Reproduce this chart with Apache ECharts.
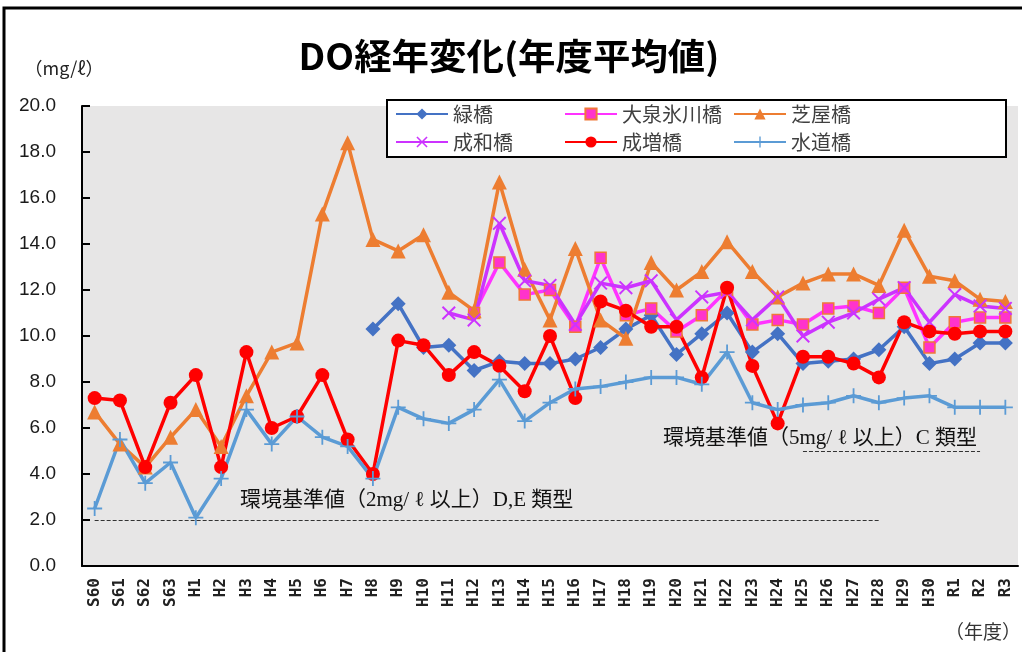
<!DOCTYPE html>
<html>
<head>
<meta charset="utf-8">
<script src="https://cdn.jsdelivr.net/npm/echarts@6/dist/echarts.min.js"></script>
<style>html,body{margin:0;padding:0;background:#fff}#c{width:1022px;height:652px}</style>
</head>
<body>
<div id="c"></div>
<script>
const categories = ['S60','S61','S62','S63','H1','H2','H3','H4','H5','H6','H7','H8','H9','H10','H11','H12','H13','H14','H15','H16','H17','H18','H19','H20','H21','H22','H23','H24','H25','H26','H27','H28','H29','H30','R1','R2','R3'];
const yTicks = [0,2,4,6,8,10,12,14,16,18,20];
const midori = [null,null,null,null,null,null,null,null,null,null,null,10.3,11.4,9.5,9.6,8.5,8.9,8.8,8.8,9.0,9.5,10.3,10.9,9.2,10.1,11.0,9.3,10.1,8.8,8.9,9.0,9.4,10.4,8.8,9.0,9.7,9.7];
const oizumi = [null,null,null,null,null,null,null,null,null,null,null,null,null,null,null,11.0,13.2,11.8,12.0,10.4,13.4,10.9,11.2,10.2,10.9,12.0,10.5,10.7,10.5,11.2,11.3,11.0,12.1,9.5,10.6,10.8,10.8];
const shibaya = [6.7,5.3,4.3,5.6,6.8,5.2,7.4,9.3,9.7,15.3,18.4,14.2,13.7,14.4,11.9,11.1,16.7,12.9,10.7,13.8,10.7,9.9,13.2,12.0,12.8,14.1,12.8,11.7,12.3,12.7,12.7,12.2,14.6,12.6,12.4,11.6,11.5];
const seiwa = [null,null,null,null,null,null,null,null,null,null,null,null,null,null,11.0,10.7,14.9,12.4,12.2,10.5,12.3,12.1,12.4,10.7,11.7,11.9,10.7,11.7,10.0,10.6,11.0,11.6,12.1,10.6,11.8,11.3,11.2];
const narimasu = [7.3,7.2,4.3,7.1,8.3,4.3,9.3,6.0,6.5,8.3,5.5,4.0,9.8,9.6,8.3,9.3,8.7,7.6,10.0,7.3,11.5,11.1,10.4,10.4,8.2,12.1,8.7,6.2,9.1,9.1,8.8,8.2,10.6,10.2,10.1,10.2,10.2];
const suido = [2.5,5.5,3.6,4.5,2.1,3.8,6.8,5.3,6.5,5.6,5.2,3.8,6.9,6.4,6.2,6.8,8.1,6.3,7.1,7.7,7.8,8.0,8.2,8.2,7.9,9.3,7.1,6.8,7.0,7.1,7.4,7.1,7.3,7.4,6.9,6.9,6.9];
const seriesNames = ['緑橋','大泉氷川橋','芝屋橋','成和橋','成増橋','水道橋'];
const standard2 = {value: 2, from: 'S60', to: 'H28', text: '環境基準値（2mg/ ℓ 以上）D,E 類型'};
const standard5 = {value: 5, from: 'H25', to: 'R2', text: '環境基準値（5mg/ ℓ 以上）C 類型'};

const chart = echarts.init(document.getElementById('c'));
const XSYM = 'path://M1,0 L5,4 L9,0 L10,1 L6,5 L10,9 L9,10 L5,6 L1,10 L0,9 L4,5 L0,1 Z';
const PSYM = 'path://M4.4,0 H5.6 V4.4 H10 V5.6 H5.6 V10 H4.4 V5.6 H0 V4.4 H4.4 Z';
const CJK = '"Noto Sans CJK JP", sans-serif';
const SERIF = '"Liberation Serif", "Noto Sans CJK JP", serif';

function mk(name, data, color, symbol, size, extra) {
  return Object.assign({
    name: name, type: 'line', data: data, symbol: symbol, symbolSize: size,
    showSymbol: true, connectNulls: false,
    lineStyle: {color: color, width: 3.5},
    itemStyle: {color: color},
    emphasis: {disabled: true}, animation: false
  }, extra || {});
}

const option = {
  animation: false,
  backgroundColor: '#fff',
  grid: {left: 82, right: 4, top: 106, bottom: 86, show: true, backgroundColor: '#e7e6e6', borderWidth: 0},
  legend: {
    left: 387, top: 100, orient: 'horizontal', width: 520,
    padding: [4, 112, 5, 8], itemGap: 8, itemWidth: 52, itemHeight: 14,
    backgroundColor: '#fff', borderColor: '#000', borderWidth: 2,
    textStyle: {fontSize: 20, color: '#404040', fontFamily: CJK, width: 103, lineHeight: 20},
    data: seriesNames
  },
  xAxis: {
    type: 'category', data: categories, boundaryGap: true,
    axisLine: {lineStyle: {color: '#000', width: 2}},
    axisTick: {inside: true, length: 5, lineStyle: {color: '#000', width: 1.5}},
    axisLabel: {rotate: 90, fontSize: 16, fontWeight: 'bold', color: '#222', fontFamily: '"DejaVu Sans Mono", monospace', margin: 12, interval: 0}
  },
  yAxis: {
    type: 'value', min: 0, max: 20, interval: 2,
    axisLine: {show: true, lineStyle: {color: '#000', width: 2}},
    axisTick: {show: true, inside: true, length: 8, lineStyle: {color: '#000', width: 2}},
    splitLine: {show: false},
    axisLabel: {fontSize: 19, color: '#1a1a1a', margin: 26, fontFamily: 'Liberation Sans', formatter: v => v.toFixed(1)}
  },
  series: [
    mk('緑橋', midori, '#4472c4', 'diamond', 15),
    mk('大泉氷川橋', oizumi, '#ff33ff', 'rect', 11, {itemStyle: {color: '#ff33cc', borderColor: '#f07838', borderWidth: 1.5}}),
    mk('芝屋橋', shibaya, '#ed7d31', 'triangle', 15),
    mk('成和橋', seiwa, '#cc33ff', XSYM, 14),
    mk('成増橋', narimasu, '#ff0000', 'circle', 14),
    mk('水道橋', suido, '#5b9bd5', PSYM, 15, {
      markLine: {
        silent: true, symbol: 'none', label: {show: false},
        lineStyle: {type: 'dashed', color: '#333', width: 1},
        data: [
          [{coord: [standard2.from, standard2.value]}, {coord: [standard2.to, standard2.value]}],
          [{coord: [standard5.from, standard5.value]}, {coord: [standard5.to, standard5.value]}]
        ]
      }
    })
  ],
  graphic: [
    {type: 'rect', silent: true, shape: {x: 4, y: 8, width: 1040, height: 700}, style: {fill: 'none', stroke: '#000', lineWidth: 3}},
    {type: 'text', x: 509, y: 56, style: {text: 'DO経年変化(年度平均値)', fontSize: 36, fontWeight: 'bold', fontFamily: CJK, fill: '#000', align: 'center', verticalAlign: 'middle'}, scaleX: 1.04},
    {type: 'text', x: 64, y: 68, style: {text: '（mg/ℓ）', fontSize: 18, fontFamily: CJK, fill: '#222', align: 'center', verticalAlign: 'middle'}},
    {type: 'text', x: 983, y: 632, style: {text: '（年度）', fontSize: 19, fontFamily: CJK, fill: '#333', align: 'center', verticalAlign: 'middle'}},
    {type: 'text', x: 240, y: 500, style: {text: standard2.text, fontSize: 21, fontFamily: SERIF, fill: '#111', align: 'left', verticalAlign: 'middle'}},
    {type: 'text', x: 663, y: 438, style: {text: standard5.text, fontSize: 21, fontFamily: SERIF, fill: '#111', align: 'left', verticalAlign: 'middle'}}
  ]
};
chart.setOption(option);
</script>
</body>
</html>
